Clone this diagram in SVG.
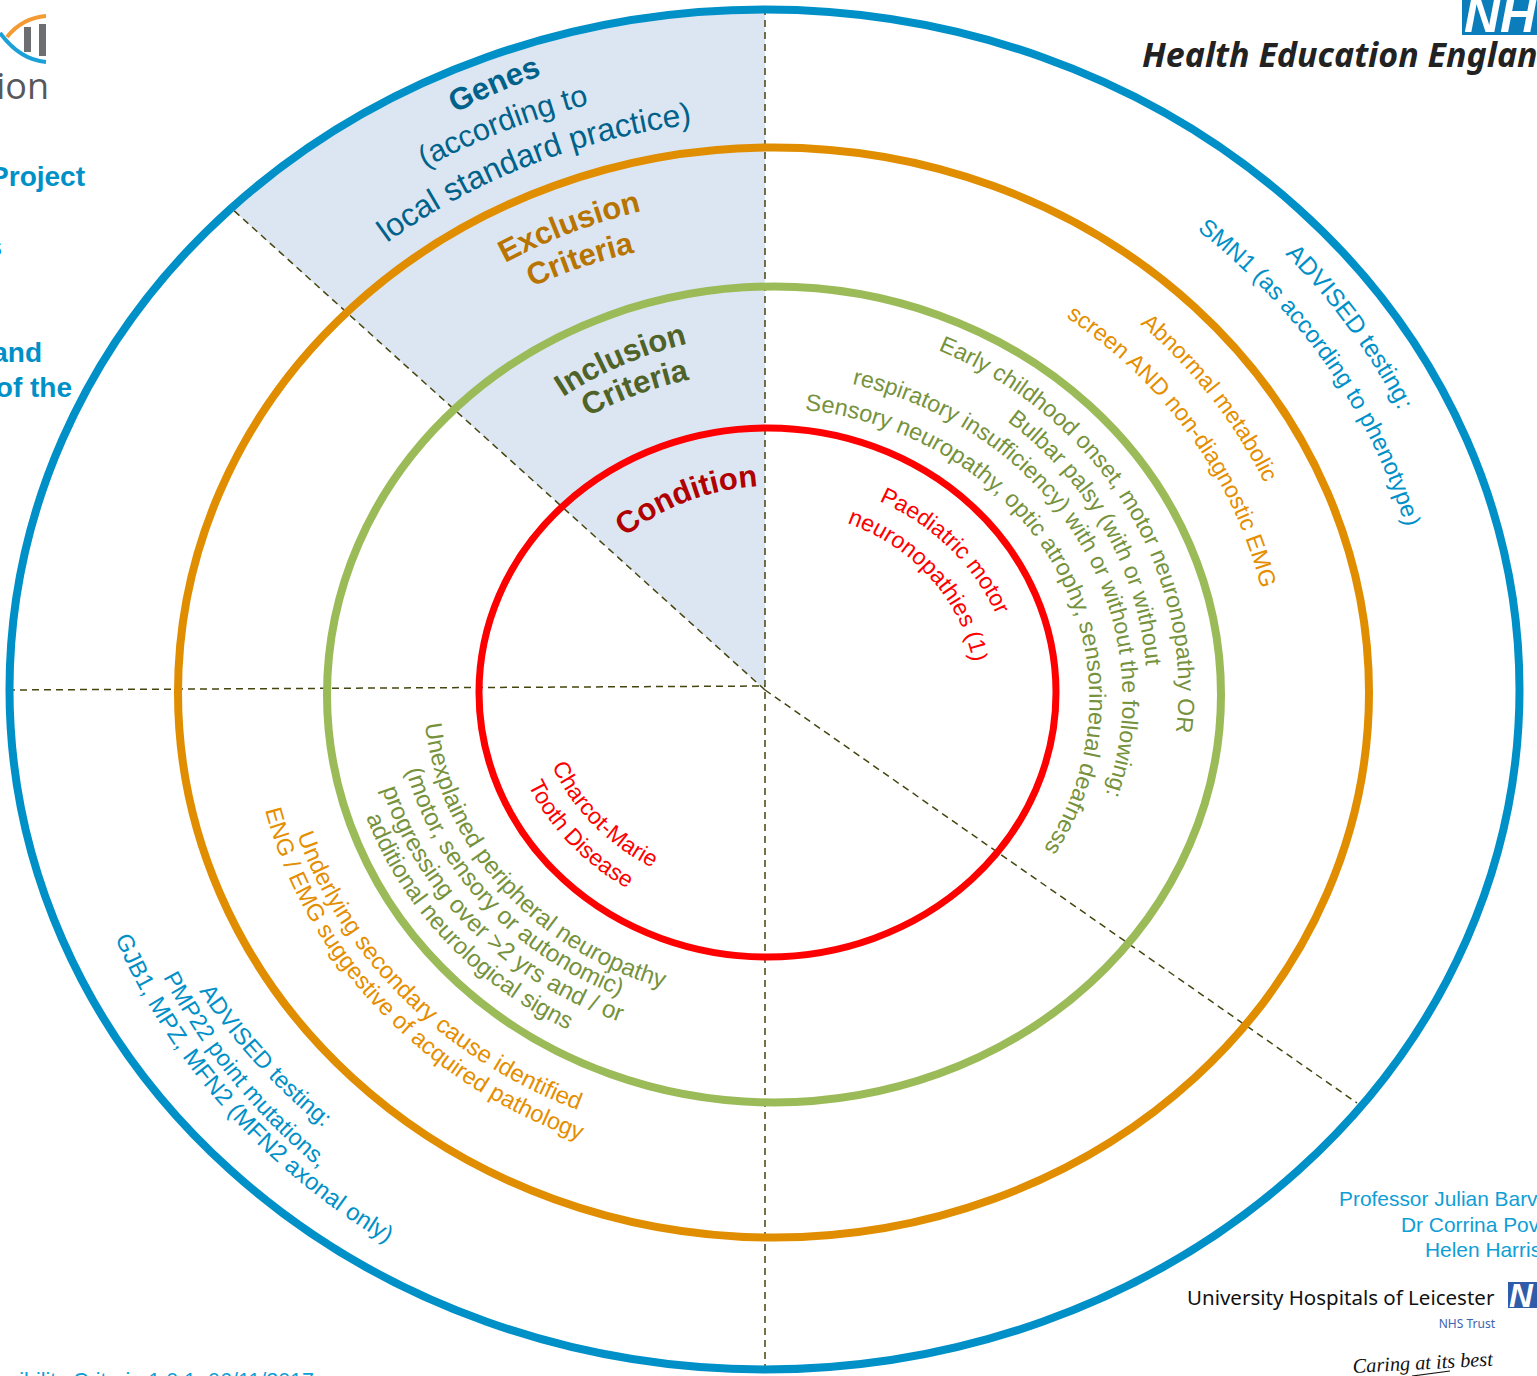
<svg xmlns="http://www.w3.org/2000/svg" width="1537" height="1376" viewBox="0 0 1537 1376">
<style>
text{font-family:"Liberation Sans",Arial,sans-serif}
.ring{fill:none}
.dash{fill:none;stroke:#45450f;stroke-width:1.5;stroke-dasharray:7 5}
.bl{fill:#0090c8}.or{fill:#e48e00}.gr{fill:#76923c}.rd{fill:#ff0000}
.c{font-size:23px}
.c2{font-size:24.2px}
.h{font-size:31px;font-weight:bold}
.tl{fill:#00628a}
.side{font-size:28px;font-weight:bold;fill:#0090c8;text-anchor:end}
.sig{font-size:20.9px;fill:#0f9ed5}
.ne{font-family:"Noto Sans","Open Sans",sans-serif}
</style>
<defs>
<path id="p1" d="M1285,254A710,645 0 0 1 1396,404l14,40"/>
<path id="p2" d="M1197,230A670,609 0 0 1 1403,519l6,40"/>
<path id="p3" d="M1140,324A550,500 0 0 1 1264,482l14,40"/>
<path id="p4" d="M1066,317A509,463 0 0 1 1260,584l6,40"/>
<path id="p5" d="M938,350A413,375 0 0 1 1176,731l-2,40"/>
<path id="p6" d="M1007,421A383,348 0 0 1 1146,668l2,40"/>
<path id="p7" d="M852,384A354,322 0 0 1 1106,794l-10,40"/>
<path id="p8" d="M805,410A320,291 0 0 1 1043,850l-24,34"/>
<path id="p9" d="M879,501A242,220 0 0 1 995,612l14,38"/>
<path id="p10" d="M847,523A204,185 0 0 1 970,650l4,40"/>
<path id="p11" d="M552,766A228,207 0 0 0 649,866l38,12"/>
<path id="p12" d="M528,785A258,235 0 0 0 630,890l38,12"/>
<path id="p13" d="M425,724A342,311 0 0 0 660,987l38,10"/>
<path id="p14" d="M406,770A368,334 0 0 0 614,994l36,14"/>
<path id="p15" d="M382,789A395,359 0 0 0 620,1022l36,14"/>
<path id="p16" d="M366,817A422,384 0 0 0 566,1029l36,16"/>
<path id="p17" d="M297,835A495,450 0 0 0 578,1110l38,12"/>
<path id="p18" d="M265,810A522,475 0 0 0 580,1140l38,10"/>
<path id="p19" d="M199,991A654,595 0 0 0 325,1129l30,24"/>
<path id="p20" d="M163,977A684,622 0 0 0 321,1170l32,22"/>
<path id="p21" d="M115,938A710,645 0 0 0 390,1245l36,16"/>
<path id="t1" d="M455,113A712,647 0 0 1 545,74l40,-12"/>
<path id="t2" d="M425,168A667,606 0 0 1 587,105l40,-12"/>
<path id="t3" d="M387,243A623,566 0 0 1 688,125l40,-8"/>
<path id="t4" d="M505,263A540,491 0 0 1 647,210l40,-10"/>
<path id="t5" d="M532,287A500,455 0 0 1 633,253l40,-10"/>
<path id="t6" d="M563,397A388,353 0 0 1 690,343l40,-6"/>
<path id="t7" d="M588,417A351,319 0 0 1 688,380l40,-6"/>
<path id="t8" d="M625,537A225,205 0 0 1 760,486l40,0"/>
</defs>

<g id="sector"><path d="M765,690L232,209A755,680 0 0 1 765,10Z" fill="#dce6f2"/></g>

<g id="logo-left">
<path d="M7,37Q22,18 46,16" fill="none" stroke="#f39a32" stroke-width="4"/>
<path d="M0,33Q20,60 46,62" fill="none" stroke="#1ba0d8" stroke-width="4"/>
<rect x="24" y="27" width="7" height="25" fill="#6d6e71"/>
<rect x="39" y="24" width="7" height="32" fill="#6d6e71"/>
<text x="49" y="99" font-size="36" text-anchor="end" fill="#58585b" style="font-family:'Open Sans',sans-serif">ion</text>
</g>
<g id="left-text">
<text x="85" y="186" class="side">Project</text>
<text x="2" y="256" class="side">s</text>
<text x="42" y="362" class="side">and</text>
<text x="72" y="397" class="side">of the</text>
<text x="314" y="1388" font-size="21.5" text-anchor="end" fill="#0f9ed5">ibility Criteria 1.0.1, 06/11/2017</text>
</g>
<g id="logo-hee">
<rect x="1462" y="0" width="75" height="35" fill="#0b7dbb"/>
<text x="1464" y="32" font-size="50" font-weight="900" font-style="italic" fill="#fff">NHS</text>
<text x="1142" y="67" font-size="34" font-weight="bold" font-style="italic" fill="#222" class="ne">Health Education Englan</text>
</g>
<g id="authors">
<text x="1339" y="1206" class="sig">Professor Julian Barv</text>
<text x="1401" y="1232" class="sig">Dr Corrina Pov</text>
<text x="1425" y="1257" class="sig">Helen Harris</text>
</g>
<g id="logo-uhl">
<text x="1187" y="1305" font-size="20.5" fill="#111" class="ne">University Hospitals of Leicester</text>
<text x="1495" y="1328" font-size="12" text-anchor="end" fill="#3e63ae" class="ne">NHS Trust</text>
<rect x="1508" y="1282" width="29" height="26" fill="#2f5ca8"/>
<text x="1509" y="1307" font-size="33" font-weight="900" font-style="italic" fill="#fff">N</text>
<text x="1353" y="1373" font-size="20.3" font-style="italic" fill="#111" transform="rotate(-3 1353 1373)" style="font-family:'Liberation Serif',serif">Caring at its best</text>
<path d="M1412,1376L1450,1371" stroke="#111" stroke-width="1.2" fill="none"/>
</g>

<g id="connectors">
<line class="dash" x1="765" y1="8" x2="765" y2="1372"/>
<line class="dash" x1="765" y1="690" x2="231" y2="208"/>
<line class="dash" x1="8" y1="690" x2="765" y2="686"/>
<line class="dash" x1="765" y1="690" x2="1357" y2="1103"/>
</g>

<g id="node-genes">
<ellipse class="ring" cx="764.5" cy="689.5" rx="755" ry="680" stroke="#0090c8" stroke-width="8"/>
<text class="h tl"><textPath href="#t1">Genes</textPath></text>
<text class="tl" font-size="30.5"><textPath href="#t2">(according to</textPath></text>
<text class="tl" font-size="32"><textPath href="#t3">local standard practice)</textPath></text>
<text class="bl" font-size="24.6"><textPath href="#p1">ADVISED testing:</textPath></text>
<text class="bl" font-size="23.8"><textPath href="#p2">SMN1 (as according to phenotype)</textPath></text>
<text class="bl" font-size="23.5"><textPath href="#p19">ADVISED testing:</textPath></text>
<text class="bl" font-size="23.4"><textPath href="#p20">PMP22 point mutations,</textPath></text>
<text class="bl" font-size="23.8"><textPath href="#p21">GJB1, MPZ, MFN2 (MFN2 axonal only)</textPath></text>
</g>
<g id="node-exclusion">
<ellipse class="ring" cx="773.5" cy="692.5" rx="595.5" ry="545" stroke="#e08e00" stroke-width="8"/>
<text class="h" fill="#b87400"><textPath href="#t4">Exclusion</textPath></text>
<text class="h" fill="#b87400"><textPath href="#t5">Criteria</textPath></text>
<text class="c or"><textPath href="#p3">Abnormal metabolic</textPath></text>
<text class="or" font-size="23.3"><textPath href="#p4">screen AND non-diagnostic EMG</textPath></text>
<text class="or" font-size="24"><textPath href="#p17">Underlying secondary cause identified</textPath></text>
<text class="or" font-size="23.5"><textPath href="#p18">ENG / EMG suggestive of acquired pathology</textPath></text>
</g>
<g id="node-inclusion">
<ellipse class="ring" cx="774" cy="694.5" rx="447" ry="408" stroke="#9bbb59" stroke-width="8"/>
<text class="h" fill="#4f6228"><textPath href="#t6">Inclusion</textPath></text>
<text class="h" fill="#4f6228"><textPath href="#t7">Criteria</textPath></text>
<text class="gr" font-size="23.2"><textPath href="#p5">Early childhood onset, motor neuronopathy OR</textPath></text>
<text class="gr" font-size="23.2"><textPath href="#p6">Bulbar palsy (with or without</textPath></text>
<text class="gr" font-size="23.2"><textPath href="#p7">respiratory insufficiency) with or without the following:</textPath></text>
<text class="gr" font-size="23.5"><textPath href="#p8">Sensory neuropathy, optic atrophy, sensorineual deafness</textPath></text>
<text class="gr c2"><textPath href="#p13">Unexplained peripheral neuropathy</textPath></text>
<text class="gr" font-size="24.3"><textPath href="#p14">(motor, sensory or autonomic)</textPath></text>
<text class="gr" font-size="24.4"><textPath href="#p15">progressing over &gt;2 yrs and / or</textPath></text>
<text class="gr" font-size="23.9"><textPath href="#p16">additional neurological signs</textPath></text>
</g>
<g id="node-condition">
<ellipse class="ring" cx="767.5" cy="692.5" rx="288.5" ry="264.5" stroke="#ff0000" stroke-width="7"/>
<text class="h" fill="#b00000"><textPath href="#t8">Condition</textPath></text>
<text class="c rd"><textPath href="#p9">Paediatric motor</textPath></text>
<text class="rd" font-size="23.3"><textPath href="#p10">neuronopathies (1)</textPath></text>
<text class="c rd"><textPath href="#p11">Charcot-Marie</textPath></text>
<text class="c rd"><textPath href="#p12">Tooth Disease</textPath></text>
</g>
</svg>
